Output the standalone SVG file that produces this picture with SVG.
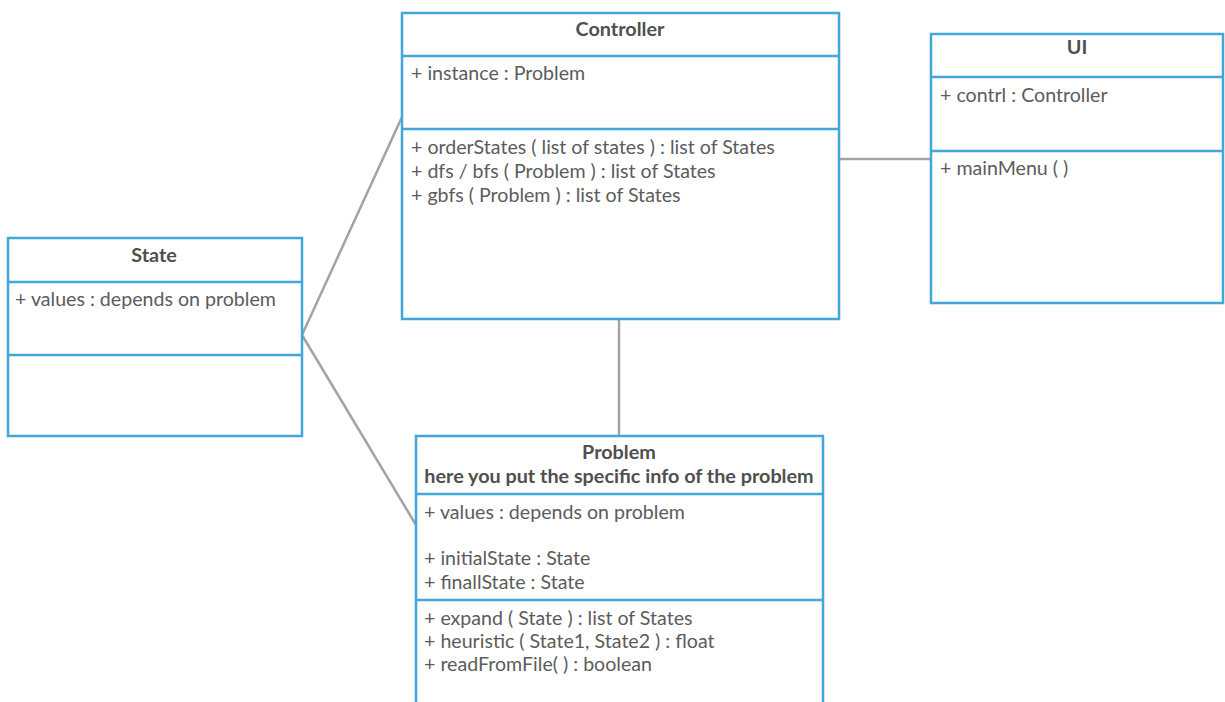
<svg xmlns="http://www.w3.org/2000/svg" width="1225" height="702" viewBox="0 0 1225 702">
<style>
.box{fill:#fff;stroke:#42a5dc;stroke-width:2.5}
.div{stroke:#42a5dc;stroke-width:2.5}
.conn{stroke:#a3a3a3;stroke-width:2.5;fill:none}
text{font-family:Lato,"Open Sans","Liberation Sans",sans-serif;font-size:19.6px;fill:#5c5c5c}
.t{font-weight:bold;font-size:19.8px;text-anchor:middle;fill:#4f4f4f}
</style>
<rect width="1225" height="702" fill="#fff"/>
<g id="connectors">
<line class="conn" x1="302" y1="335" x2="402" y2="117"/>
<line class="conn" x1="302" y1="335" x2="416" y2="525"/>
<line class="conn" x1="619" y1="319" x2="619" y2="435"/>
<line class="conn" x1="839" y1="159" x2="931" y2="159"/>
</g>
<g id="controller">
<rect class="box" x="402" y="13" width="437" height="306"/>
<line class="div" x1="402" y1="56" x2="839" y2="56"/>
<line class="div" x1="402" y1="129" x2="839" y2="129"/>
<text class="t" x="620" y="36">Controller</text>
<text x="411" y="80">+ instance : Problem</text>
<text x="411" y="154">+ orderStates ( list of states ) : list of States</text>
<text x="411" y="178">+ dfs / bfs ( Problem ) : list of States</text>
<text x="411" y="202">+ gbfs ( Problem ) : list of States</text>
</g>
<g id="ui">
<rect class="box" x="931" y="34" width="292" height="269"/>
<line class="div" x1="931" y1="77" x2="1223" y2="77"/>
<line class="div" x1="931" y1="151" x2="1223" y2="151"/>
<text class="t" x="1077" y="54">UI</text>
<text x="940" y="102">+ contrl : Controller</text>
<text x="940" y="175">+ mainMenu (  )</text>
</g>
<g id="state">
<rect class="box" x="8" y="238" width="294" height="198"/>
<line class="div" x1="8" y1="282" x2="302" y2="282"/>
<line class="div" x1="8" y1="355" x2="302" y2="355"/>
<text class="t" x="154" y="262">State</text>
<text x="15" y="306">+ values : depends on problem</text>
</g>
<g id="problem">
<rect class="box" x="416" y="436" width="407" height="280"/>
<line class="div" x1="416" y1="494" x2="823" y2="494"/>
<line class="div" x1="416" y1="600" x2="823" y2="600"/>
<text class="t" x="619" y="459">Problem</text>
<text class="t" x="619" y="483">here you put the specific info of the problem</text>
<text x="424" y="519">+ values : depends on problem</text>
<text x="424" y="565">+ initialState : State</text>
<text x="424" y="589">+ finallState : State</text>
<text x="424" y="625">+ expand ( State ) : list of States</text>
<text x="424" y="648">+ heuristic ( State1, State2 ) : float</text>
<text x="424" y="671">+ readFromFile( ) : boolean</text>
</g>
</svg>
